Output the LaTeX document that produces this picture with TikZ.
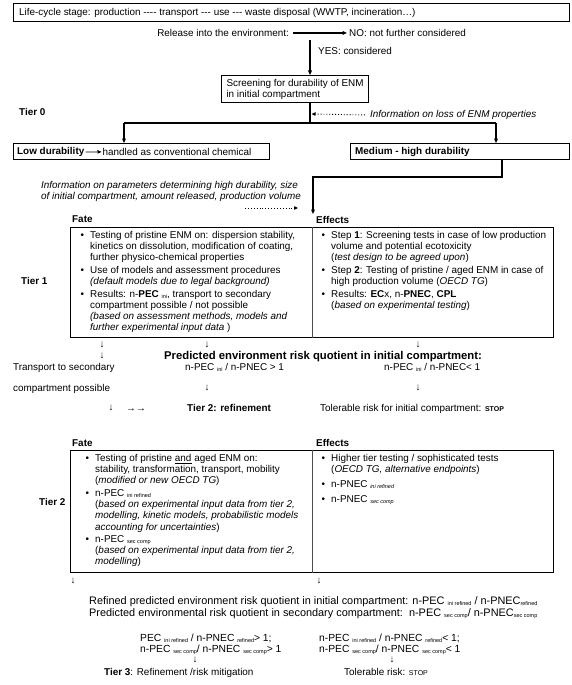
\documentclass[tikz,border=0pt]{standalone}
\usepackage{fontspec}
\setmainfont{Liberation Sans}
\usetikzlibrary{arrows.meta}
\newcommand{\lsub}[1]{\raisebox{-1.2pt}{\fontsize{5.5}{6}\selectfont #1}}
\newcommand{\bul}{\llap{\textbullet\hspace{6pt}}}
\newcommand{\hy}{-\kern0pt}
\begin{document}
\begin{tikzpicture}[x=1pt,y=-1pt,
  every node/.style={font=\fontsize{9.9}{11.2}\selectfont, inner sep=0pt},
  lbl/.style={anchor=base west, yshift=-3.5pt},
  bf/.style={font=\fontsize{9.9}{11.2}\selectfont\bfseries},
  it/.style={font=\fontsize{9.9}{11.2}\selectfont\itshape},
  big/.style={font=\fontsize{10.9}{11.2}\selectfont},
  mid/.style={font=\fontsize{10.3}{11.2}\selectfont},
  head/.style={font=\fontsize{11.3}{12}\selectfont\bfseries},
  item/.style={anchor=north west, align=left},
  box/.style={draw, line width=1.1pt},
  tbox/.style={draw, line width=1.4pt},
  div/.style={line width=0.5pt, black!70},
  conn/.style={line width=1.1pt},
  arr/.style={conn, -{Triangle[length=4.5pt,width=3.8pt]}},
  thinarr/.style={line width=0.7pt, -{Triangle[length=4pt,width=3.4pt]}},
  dotarr/.style={line width=0.9pt, dotted, -{Triangle[length=4pt,width=3.4pt]}}
]
\useasboundingbox (0,0) rectangle (572,685);

% top
\node[box, anchor=north west, minimum width=556pt, minimum height=18pt] (top) at (13,3) {};
\node[lbl] (toptxt) at (19,12) {Life-cycle stage: production \hy\hy\hy- transport \hy\hy- use \hy\hy- waste disposal (WWTP, incineration…)};

\node[lbl, anchor=base east] (rel) at (289,33) {Release into the environment:};
\node[lbl] (no) at (349,33) {NO: not further considered};
\draw[arr] ([xshift=4pt]rel.east) -- ([xshift=-2pt]no.west);
\coordinate (relbot) at (310,40);
\node[lbl] (yes) at (318,51) {YES: considered};

\node[box, anchor=north west, minimum width=147pt, minimum height=27pt, align=left] (screen) at (221,75) {Screening for durability of ENM\\in initial compartment};
\draw[arr] (relbot) -- (relbot |- screen.north);

\node[lbl,bf] (t0) at (19,112) {Tier 0};
\coordinate (split) at (310,123);
\coordinate (brL) at (124,123);
\coordinate (brR) at (496,123);
\node[lbl,it] (loss) at (370,114) {Information on loss of ENM properties};
\coordinate (lossend) at (311.5,114);
\draw[dotarr] ([xshift=-5pt]loss.west) -- (lossend);

\node[box, anchor=north west, minimum width=256pt, minimum height=16pt] (low) at (13,143) {};
\node[lbl,bf] (lowa) at (17,151) {Low durability};
\node[lbl] (lowb) at ([xshift=18pt]lowa.east) {handled as conventional chemical};
\draw[thinarr] ([xshift=1pt]lowa.east) -- ([xshift=-1pt]lowb.west);

\node[box, anchor=north west, minimum width=219pt, minimum height=16pt] (med) at (350,143) {};
\node[lbl,bf] (meda) at (355,151) {Medium - high durability};

\draw[conn] (screen.south -| split) -- (split);
\draw[conn] (brL) -- (brR);
\draw[arr] (brL) -- (brL |- low.north);
\draw[arr] (brR) -- (brR |- med.north);

\coordinate (mdn) at (502,177);
\coordinate (mleft) at (313,177);
\coordinate (efftip) at (313,214);
\draw[arr] (med.south -| mdn) -- (mdn) -- (mleft) -- (efftip);

\node[it, item] (info) at (41,180.7) {\strut Information on parameters determining high durability, size\\of initial compartment, amount released, production volume};
\coordinate (d2s) at (245,208);
\coordinate (d2e) at (298,208);
\draw[dotarr] (d2s) -- (d2e);

% Tier 1
\node[lbl,bf] (fate1) at (72,219) {Fate};
\node[lbl,bf] (eff1) at (316,220) {Effects};
\node[tbox, anchor=north west, minimum width=483pt, minimum height=110pt] (t1box) at (70,227) {};
\coordinate (t1d) at (312,227);
\draw[div] (t1d) -- (t1d |- t1box.south);
\node[lbl,bf] (tier1) at (21,281) {Tier 1};

\node[item] (f1a) at (90,230) {\bul\strut Testing of pristine ENM on: dispersion stability,\\kinetics on dissolution, modification of coating,\\further physico-chemical properties};
\node[item] (f1b) at (90,265) {\bul\strut Use of models and assessment procedures\\\textit{(default models due to legal background)}};
\node[item] (f1c) at (90,289) {\bul\strut Results: n-\textbf{PEC} \lsub{ini}, transport to secondary\\compartment possible / not possible\\\textit{(based on assessment methods, models and}\\\textit{further experimental input data} )};

\node[item] (e1a) at (331,230.5) {\bul\strut Step \textbf{1}: Screening tests in case of low production\\volume and potential ecotoxicity\\(\textit{test design to be agreed upon})};
\node[item] (e1b) at (331,265.5) {\bul\strut Step \textbf{2}: Testing of pristine / aged ENM in case of\\high production volume (\textit{OECD TG})};
\node[item] (e1c) at (331,289) {\bul\strut Results: \textbf{EC}x, n-\textbf{PNEC}, \textbf{CPL}\\(\textit{based on experimental testing})};

% below tier 1
\node (a1) at (102,345) {↓};
\node (a2) at (207,345) {↓};
\node (a3) at (418,345) {↓};
\node (a4) at (102,356) {↓};
\node[lbl,head] (pred) at (164,356) {Predicted environment risk quotient in initial compartment:};
\node[lbl] (trans) at (13,367) {Transport to secondary};
\node[lbl] (gt1) at (185,367) {n-PEC \lsub{ini} / n-PNEC > 1};
\node[lbl] (lt1) at (384,367) {n-PEC \lsub{ini} / n-PNEC< 1};
\node[lbl] (comp) at (13,388) {compartment possible};
\node (a5) at (207,388) {↓};
\node (a6) at (418,388) {↓};
\node (a7) at (111,408) {↓};
\node[lbl] (rr) at (126,408) {→→};
\node[lbl,bf] (tier2r) at (187,408) {Tier 2: refinement};
\node[lbl] (tol1) at (320,408) {Tolerable risk for initial compartment: {\bfseries\fontsize{7}{8}\selectfont STOP}};

% Tier 2
\node[lbl,bf] (fate2) at (72,443) {Fate};
\node[lbl,bf] (eff2) at (316,443) {Effects};
\node[tbox, anchor=north west, minimum width=483pt, minimum height=122pt] (t2box) at (70,450) {};
\coordinate (t2d) at (312,450);
\draw[div] (t2d) -- (t2d |- t2box.south);
\node[lbl,bf] (tier2) at (39,502) {Tier 2};

\node[item] (f2a) at (95,453.4) {\bul\strut Testing of pristine \underline{and} aged ENM on:\\stability, transformation, transport, mobility\\(\textit{modified or new OECD TG})};
\node[item] (f2b) at (95,488.4) {\bul\strut n-PEC \lsub{ini refined}\\(\textit{based on experimental input data from tier 2,}\\\textit{modelling, kinetic models, probabilistic models}\\\textit{accounting for uncertainties})};
\node[item] (f2c) at (95,534) {\bul\strut n-PEC \lsub{sec comp}\\(\textit{based on experimental input data from tier 2,}\\\textit{modelling})};

\node[item] (e2a) at (331,453.4) {\bul\strut Higher tier testing / sophisticated tests\\(\textit{OECD TG, alternative endpoints})};
\node[item] (e2b) at (331,479.7) {\bul\strut n-PNEC \lsub{\itshape ini refined}};
\node[item] (e2c) at (331,494.7) {\bul\strut n-PNEC \lsub{\itshape sec comp}};

% below tier 2
\node (b1) at (73,581) {↓};
\node (b2) at (319,581) {↓};
\node[lbl,big] (ref1) at (89,601) {Refined predicted environment risk quotient in initial compartment: n-PEC \lsub{ini refined} / n-PNEC\lsub{refined}};
\node[lbl,big] (ref2) at (89,612.5) {Predicted environmental risk quotient in secondary compartment:\ \ n-PEC \lsub{sec comp}/ n-PNEC\lsub{sec comp}};

\node[lbl,mid] (g1) at (140,638) {PEC \lsub{ini refined} / n-PNEC \lsub{refined}> 1;};
\node[lbl,mid] (g2) at (140,649) {n-PEC \lsub{sec comp}/ n-PNEC \lsub{sec comp}> 1};
\node (b3) at (195,660) {↓};
\node[lbl] (tier3) at (104,672) {\textbf{Tier 3}: Refinement /risk mitigation};
\node[lbl,mid] (l1) at (319,638) {n-PEC \lsub{ini refined} / n-PNEC \lsub{refined}< 1;};
\node[lbl,mid] (l2) at (319,649) {n-PEC \lsub{sec comp}/ n-PNEC \lsub{sec comp}< 1};
\node (b4) at (392,660) {↓};
\node[lbl] (tol2) at (344,672) {Tolerable risk: {\fontsize{7}{8}\selectfont STOP}};
\end{tikzpicture}
\end{document}
